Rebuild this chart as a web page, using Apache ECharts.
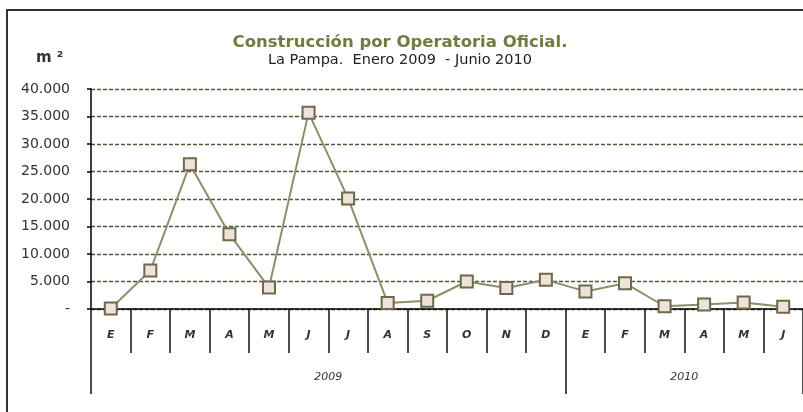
<!DOCTYPE html>
<html>
<head>
<meta charset="utf-8">
<script src="https://cdn.jsdelivr.net/npm/echarts@6/dist/echarts.min.js"></script>
<style>
  html, body { margin: 0; padding: 0; background: #fff; }
  #chart { width: 803px; height: 412px; }
</style>
</head>
<body>
<div id="chart"></div>
<script>
// meses (E..D 2009, E..J 2010)
const months = ["E", "F", "M", "A", "M", "J", "J", "A", "S", "O", "N", "D", "E", "F", "M", "A", "M", "J"];
// m2 por mes
const values = [100, 7000, 26300, 13600, 3900, 35700, 20100, 1100, 1500, 5000, 3800, 5300, 3200, 4700, 500, 800, 1200, 400];
const years = ["2009", "2010"];
const monthsPerYear = [12, 6];

// límites y centros de cada año, en unidades de mes
const yearBounds = [0];
monthsPerYear.forEach((n, i) => yearBounds.push(yearBounds[i] + n));
const yearCenters = years.map((y, i) => (yearBounds[i] + yearBounds[i + 1]) / 2);

const fmt = (v) => (v === 0 ? "-" : String(v).replace(/\B(?=(\d{3})+(?!\d))/g, "."));

const font = "DejaVu Sans, Verdana, sans-serif";

const option = {
  animation: false,
  title: {
    text: "Construcción por Operatoria Oficial.",
    subtext: "La Pampa.  Enero 2009  - Junio 2010",
    left: 395,
    top: 29,
    textAlign: "center",
    itemGap: 2,
    textStyle: { fontFamily: font, fontSize: 16.5, fontWeight: "bold", color: "#6e7c42" },
    subtextStyle: { fontFamily: font, fontSize: 14.5, color: "#222" },
  },
  graphic: [
    {
      type: "rect",
      shape: { x: 7, y: 10, width: 830, height: 430 },
      style: { fill: "none", stroke: "#333", lineWidth: 2 },
      silent: true,
    },
    {
      type: "text",
      left: 36,
      top: 51,
      style: { text: "m ²", font: "bold 15px " + font, fill: "#333" },
    },
  ],
  grid: { left: 91, top: 89, width: 719, height: 220 },
  xAxis: [
    {
      type: "category",
      data: months,
      boundaryGap: true,
      axisLine: { lineStyle: { color: "#000", width: 1.5 } },
      axisTick: { show: true, interval: 0, length: 44, lineStyle: { color: "#111", width: 1.5 } },
      axisLabel: {
        interval: 0,
        margin: 21,
        fontFamily: font,
        fontSize: 11,
        fontStyle: "italic",
        fontWeight: "bold",
        color: "#333",
      },
      splitLine: { show: false },
    },
    {
      type: "value",
      position: "bottom",
      min: 0,
      max: months.length,
      axisLine: { show: false },
      axisTick: {
        show: true,
        length: 85,
        customValues: yearBounds,
        lineStyle: { color: "#111", width: 1.5 },
      },
      axisLabel: {
        margin: 63,
        customValues: yearCenters,
        formatter: (v) => years[yearCenters.indexOf(v)] || "",
        fontFamily: font,
        fontSize: 11,
        fontStyle: "italic",
        color: "#333",
      },
      splitLine: { show: false },
    },
  ],
  yAxis: {
    type: "value",
    min: 0,
    max: 40000,
    interval: 5000,
    axisLine: { show: true, lineStyle: { color: "#000", width: 1.5 } },
    axisTick: { show: true, length: 4, lineStyle: { color: "#000", width: 1.5 } },
    axisLabel: {
      margin: 21,
      formatter: fmt,
      fontFamily: font,
      fontSize: 14,
      color: "#333",
    },
    splitLine: {
      lineStyle: { color: "#4f5838", type: [4, 2], width: 1.3 },
    },
  },
  series: [
    {
      type: "line",
      data: values,
      symbol: "rect",
      symbolSize: 12,
      lineStyle: { color: "#8b8f6a", width: 2 },
      itemStyle: { color: "#f0e1dc", borderColor: "#6b6b48", borderWidth: 2 },
    },
  ],
};

const myChart = echarts.init(document.getElementById("chart"));
myChart.setOption(option);
</script>
</body>
</html>
